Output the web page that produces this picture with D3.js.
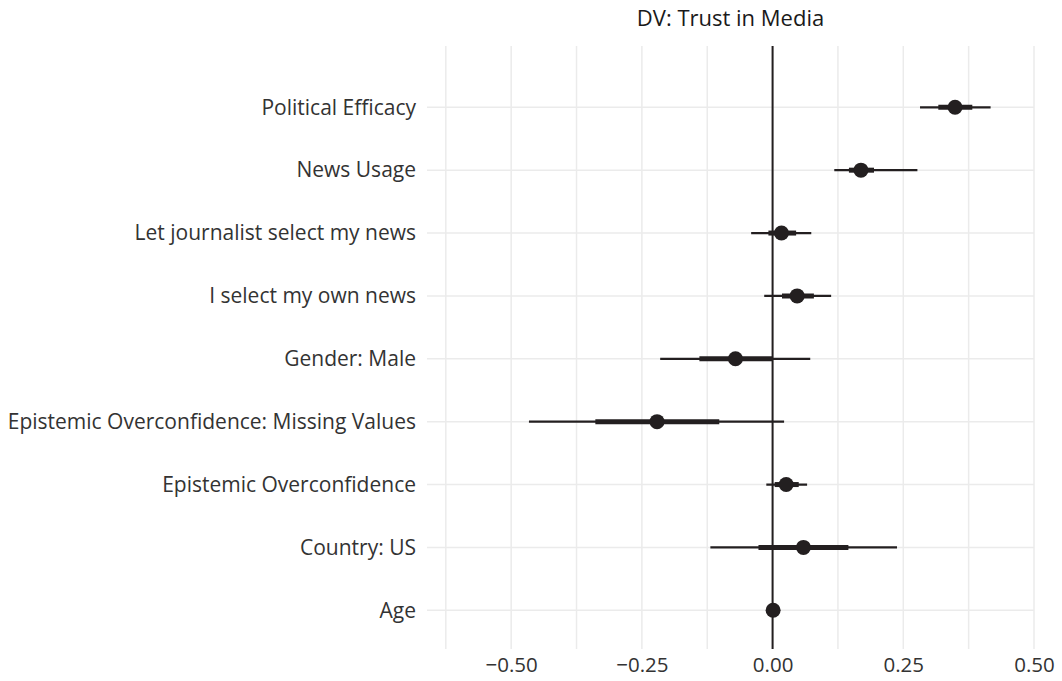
<!DOCTYPE html>
<html>
<head>
<meta charset="utf-8">
<script src="https://cdn.jsdelivr.net/npm/d3@7"></script>
<style>
  body { margin: 0; background: #fff; }
  text { font-family: "Open Sans", sans-serif; }
</style>
</head>
<body>
<div id="chart"></div>
<script>
// data, top row first
var terms = ["Political Efficacy", "News Usage", "Let journalist select my news",
  "I select my own news", "Gender: Male", "Epistemic Overconfidence: Missing Values",
  "Epistemic Overconfidence", "Country: US", "Age"];
var estimate = [0.349, 0.169, 0.017, 0.047, -0.071, -0.221, 0.026, 0.059, 0.001];
var innerLow = [0.317, 0.146, -0.008, 0.018, -0.140, -0.339, 0.004, -0.027, 0.000];
var innerHigh = [0.382, 0.194, 0.045, 0.079, 0.000, -0.102, 0.050, 0.145, 0.002];
var outerLow = [0.282, 0.118, -0.041, -0.016, -0.215, -0.466, -0.012, -0.119, -0.001];
var outerHigh = [0.417, 0.277, 0.074, 0.112, 0.072, 0.022, 0.066, 0.238, 0.003];
var xTicks = [-0.50, -0.25, 0.00, 0.25, 0.50];
var xMinor = [-0.625, -0.375, -0.125, 0.125, 0.375];

var data = terms.map(function(t, i) {
  return {term: t, est: estimate[i], lo1: innerLow[i], hi1: innerHigh[i], lo2: outerLow[i], hi2: outerHigh[i]};
});

var W = 1062, H = 681;
var panel = {left: 427, right: 1034, top: 46, bottom: 649};

var svg = d3.select("#chart").append("svg")
  .attr("width", W)
  .attr("height", H);

var x = d3.scaleLinear()
  .domain([-0.661, 0.5])
  .range([panel.left, panel.right]);

var y = d3.scalePoint()
  .domain(terms)
  .range([107.3, 610.3]);

// grid
svg.append("g").selectAll("line")
  .data(xMinor.concat(xTicks))
  .enter().append("line")
    .attr("x1", function(d) { return x(d); })
    .attr("x2", function(d) { return x(d); })
    .attr("y1", panel.top)
    .attr("y2", panel.bottom)
    .attr("stroke", "#ebebeb")
    .attr("stroke-width", 1.5);

svg.append("g").selectAll("line")
  .data(terms)
  .enter().append("line")
    .attr("x1", panel.left)
    .attr("x2", panel.right)
    .attr("y1", function(d) { return y(d); })
    .attr("y2", function(d) { return y(d); })
    .attr("stroke", "#ebebeb")
    .attr("stroke-width", 1.5);

// x axis labels
var xAxis = svg.append("g")
  .attr("transform", "translate(0," + (panel.bottom + 2) + ")")
  .call(d3.axisBottom(x).tickValues(xTicks).tickSize(0).tickPadding(6)
    .tickFormat(function(d) { return d3.format(".2f")(d).replace("-", "\u2212"); }));
xAxis.select(".domain").remove();
xAxis.selectAll("text")
  .attr("font-size", 20.5)
  .attr("fill", "#333")
  .style("font-family", "'Open Sans', sans-serif");

// y axis labels
var yAxis = svg.append("g")
  .attr("transform", "translate(" + panel.left + ",0)")
  .call(d3.axisLeft(y).tickSize(0).tickPadding(11));
yAxis.select(".domain").remove();
yAxis.selectAll("text")
  .attr("font-size", 21)
  .attr("fill", "#333")
  .style("font-family", "'Open Sans', sans-serif");

// zero line
svg.append("line")
  .attr("x1", x(0)).attr("x2", x(0))
  .attr("y1", panel.top).attr("y2", panel.bottom)
  .attr("stroke", "#231f20")
  .attr("stroke-width", 2);

// title (facet strip)
svg.append("text")
  .attr("x", (panel.left + panel.right) / 2)
  .attr("y", 18)
  .attr("dy", "0.35em")
  .attr("text-anchor", "middle")
  .attr("font-size", 22)
  .attr("fill", "#1a1a1a")
  .text("DV: Trust in Media");

// intervals and points
var marks = svg.append("g");
marks.selectAll(".outer")
  .data(data)
  .enter().append("line")
    .attr("class", "outer")
    .attr("x1", function(d) { return x(d.lo2); })
    .attr("x2", function(d) { return x(d.hi2); })
    .attr("y1", function(d) { return y(d.term); })
    .attr("y2", function(d) { return y(d.term); })
    .attr("stroke", "#231f20")
    .attr("stroke-width", 2.2);

marks.selectAll(".inner")
  .data(data)
  .enter().append("line")
    .attr("class", "inner")
    .attr("x1", function(d) { return x(d.lo1); })
    .attr("x2", function(d) { return x(d.hi1); })
    .attr("y1", function(d) { return y(d.term); })
    .attr("y2", function(d) { return y(d.term); })
    .attr("stroke", "#231f20")
    .attr("stroke-width", 5);

marks.selectAll("circle")
  .data(data)
  .enter().append("circle")
    .attr("cx", function(d) { return x(d.est); })
    .attr("cy", function(d) { return y(d.term); })
    .attr("r", 7.5)
    .attr("fill", "#231f20");
</script>
</body>
</html>
